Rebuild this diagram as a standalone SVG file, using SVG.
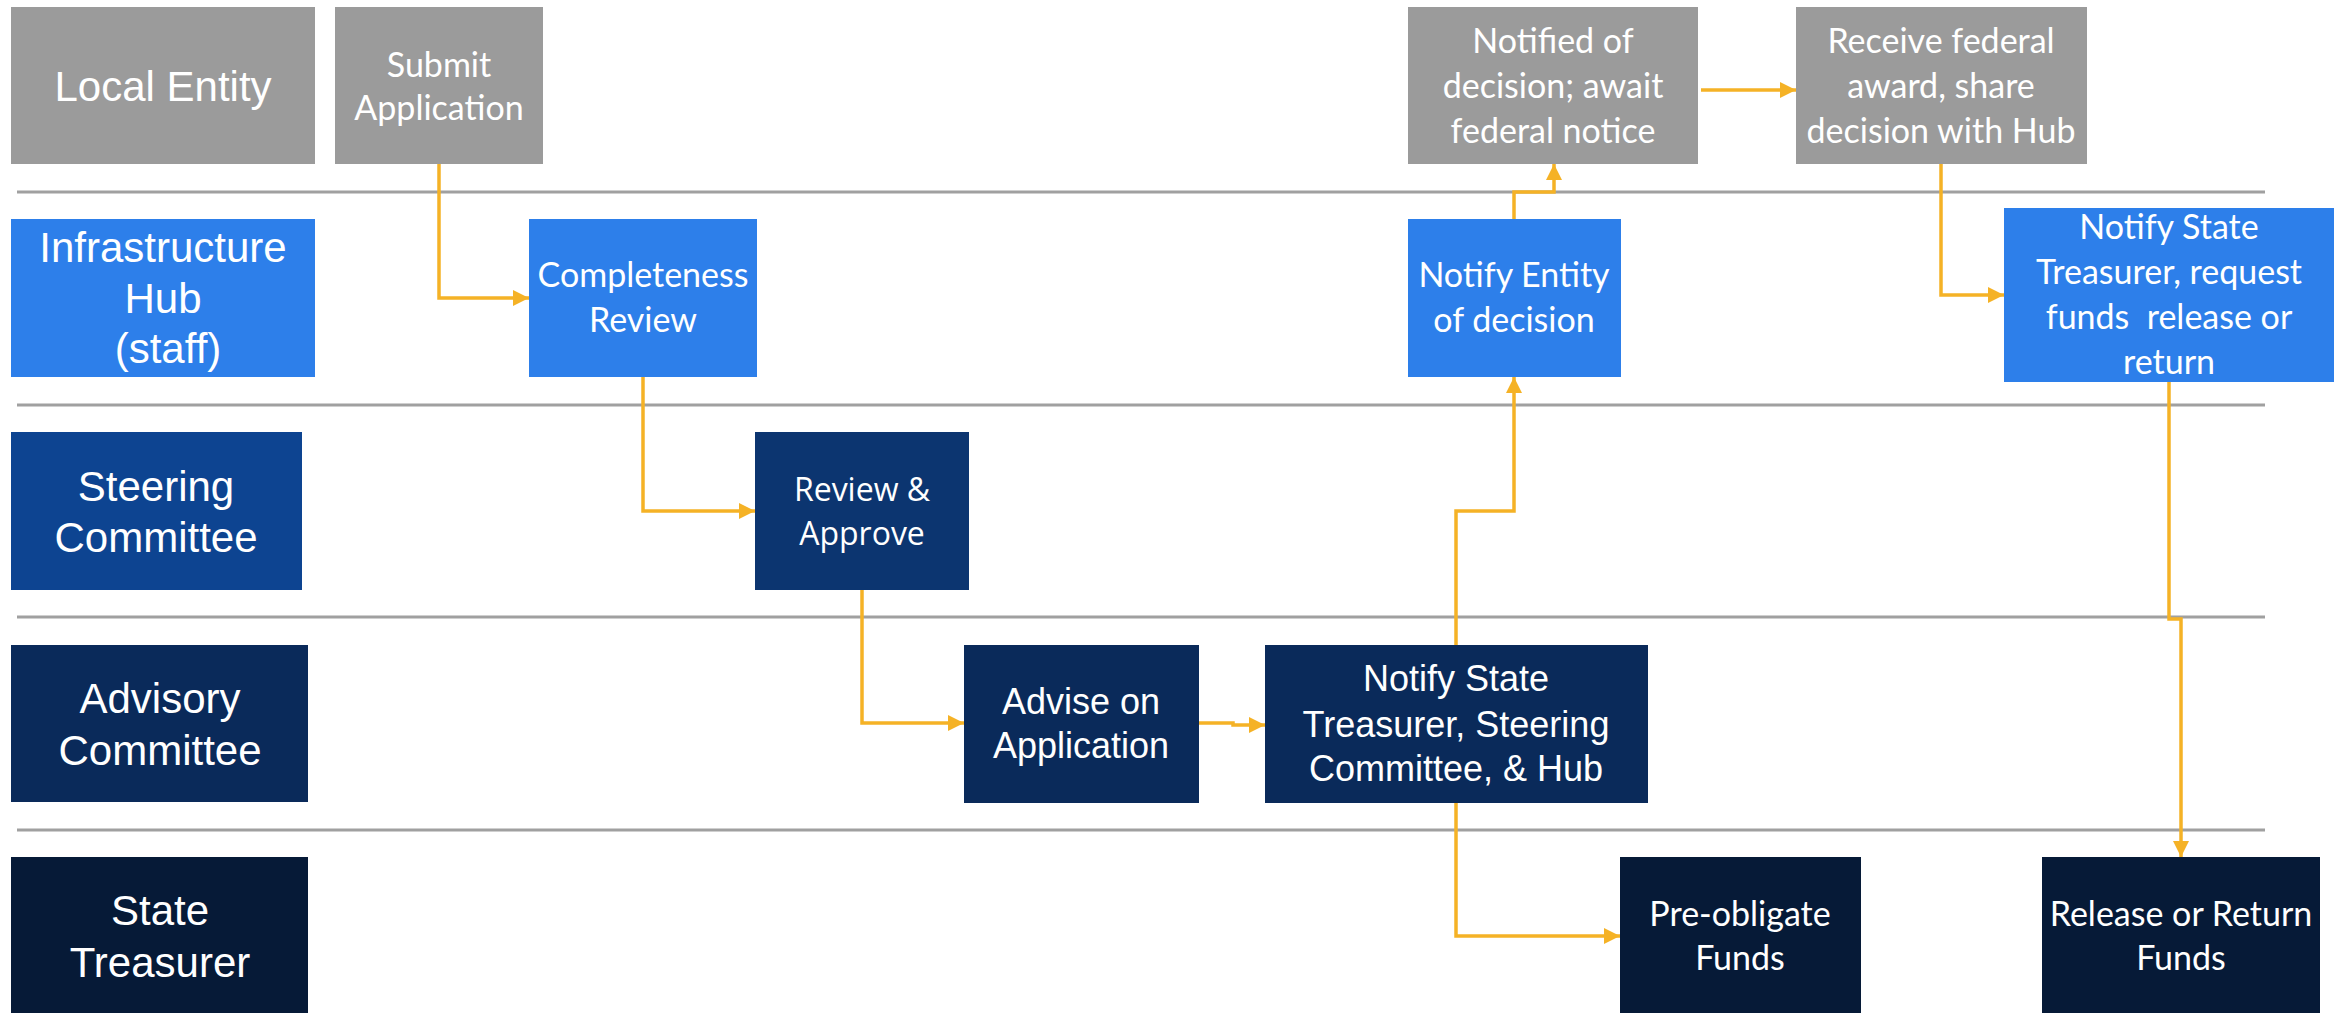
<svg xmlns="http://www.w3.org/2000/svg" width="2344" height="1013" viewBox="0 0 2344 1013">
<style>
.lane{font-family:"Liberation Sans",Arial,sans-serif;font-size:42px;fill:#fff;text-anchor:middle}
.cal{font-family:Lato,"Open Sans",sans-serif;font-size:34px;fill:#fff;text-anchor:middle}
.ari{font-family:"Liberation Sans",Arial,sans-serif;font-size:36px;fill:#fff;text-anchor:middle}
.seg{font-family:"Open Sans",sans-serif;font-size:32px;fill:#fff;text-anchor:middle}
.sep{stroke:#A0A0A0;stroke-width:3}
.con{fill:none;stroke:#F5B226;stroke-width:3.5;marker-end:url(#ah)}
.gray{fill:#9B9B9B}.blue{fill:#2D7FEA}.steer{fill:#0D4491}.rev{fill:#0C3570}.adv{fill:#0A2A5A}.treas{fill:#061A37}
</style>
<defs>
<marker id="ah" markerUnits="userSpaceOnUse" markerWidth="16" markerHeight="16" refX="16" refY="8" orient="auto"><path d="M0,0 L16,8 L0,16 z" fill="#F5B226"/></marker>
</defs>
<rect width="2344" height="1013" fill="#fff"/>
<g id="separators">
<line class="sep" x1="17" y1="192" x2="2265" y2="192"/>
<line class="sep" x1="17" y1="405" x2="2265" y2="405"/>
<line class="sep" x1="17" y1="617" x2="2265" y2="617"/>
<line class="sep" x1="17" y1="830" x2="2265" y2="830"/>
</g>
<g id="lane-local"><rect class="gray" x="11" y="7" width="304" height="157"/><text class="lane" x="163" y="101">Local Entity</text></g>
<g id="lane-hub"><rect class="blue" x="11" y="219" width="304" height="158"/><text class="lane" x="163" y="262">Infrastructure</text><text class="lane" x="163" y="313">Hub</text><text class="lane" x="168" y="363">(staff)</text></g>
<g id="lane-steering"><rect class="steer" x="11" y="432" width="291" height="158"/><text class="lane" x="156" y="501">Steering</text><text class="lane" x="156" y="552">Committee</text></g>
<g id="lane-advisory"><rect class="adv" x="11" y="645" width="297" height="157"/><text class="lane" x="160" y="713">Advisory</text><text class="lane" x="160" y="765">Committee</text></g>
<g id="lane-treasurer"><rect class="treas" x="11" y="857" width="297" height="156"/><text class="lane" x="160" y="925">State</text><text class="lane" x="160" y="977">Treasurer</text></g>

<g id="submit"><rect class="gray" x="335" y="7" width="208" height="157"/><text class="cal" x="439" y="77">Submit</text><text class="cal" x="439" y="120">Application</text></g>
<g id="completeness"><rect class="blue" x="529" y="219" width="228" height="158"/><text class="cal" x="643" y="287">Completeness</text><text class="cal" x="643" y="332">Review</text></g>
<g id="review"><rect class="rev" x="755" y="432" width="214" height="158"/><text class="seg" x="862" y="501">Review &amp;</text><text class="seg" x="862" y="545">Approve</text></g>
<g id="advise"><rect class="adv" x="964" y="645" width="235" height="158"/><text class="ari" x="1081" y="714">Advise on</text><text class="ari" x="1081" y="758">Application</text></g>
<g id="notify-all"><rect class="adv" x="1265" y="645" width="383" height="158"/><text class="ari" x="1456" y="691">Notify State</text><text class="ari" x="1456" y="737">Treasurer, Steering</text><text class="ari" x="1456" y="781">Committee, &amp; Hub</text></g>
<g id="preobligate"><rect class="treas" x="1620" y="857" width="241" height="156"/><text class="cal" x="1740" y="926">Pre-obligate</text><text class="cal" x="1740" y="970">Funds</text></g>
<g id="release"><rect class="treas" x="2042" y="857" width="278" height="156"/><text class="cal" x="2181" y="926">Release or Return</text><text class="cal" x="2181" y="970">Funds</text></g>
<g id="notify-entity"><rect class="blue" x="1408" y="219" width="213" height="158"/><text class="cal" x="1514" y="287">Notify Entity</text><text class="cal" x="1514" y="332">of decision</text></g>
<g id="notified"><rect class="gray" x="1408" y="7" width="290" height="157"/><text class="cal" x="1553" y="53">Notified of</text><text class="cal" x="1553" y="98">decision; await</text><text class="cal" x="1553" y="143">federal notice</text></g>
<g id="receive"><rect class="gray" x="1796" y="7" width="291" height="157"/><text class="cal" x="1941" y="53">Receive federal</text><text class="cal" x="1941" y="98">award, share</text><text class="cal" x="1941" y="143">decision with Hub</text></g>
<g id="notify-request"><rect class="blue" x="2004" y="208" width="330" height="174"/><text class="cal" x="2169" y="239">Notify State</text><text class="cal" x="2169" y="284">Treasurer, request</text><text class="cal" x="2169" y="329" xml:space="preserve">funds  release or</text><text class="cal" x="2169" y="374">return</text></g>

<g id="connectors">
<path class="con" d="M439,164 V298 H529"/>
<path class="con" d="M643,377 V511 H755"/>
<path class="con" d="M862,590 V723 H964"/>
<path class="con" d="M1199,723 H1233 V725 H1265"/>
<path class="con" d="M1456,803 V936 H1620"/>
<path class="con" d="M1456,645 V511 H1514 V377"/>
<path class="con" d="M1514,219 V192 H1554 V164"/>
<path class="con" d="M1701,90 H1796"/>
<path class="con" d="M1941,164 V295 H2004"/>
<path class="con" d="M2169,382 V619 H2181 V857"/>
</g>
</svg>
